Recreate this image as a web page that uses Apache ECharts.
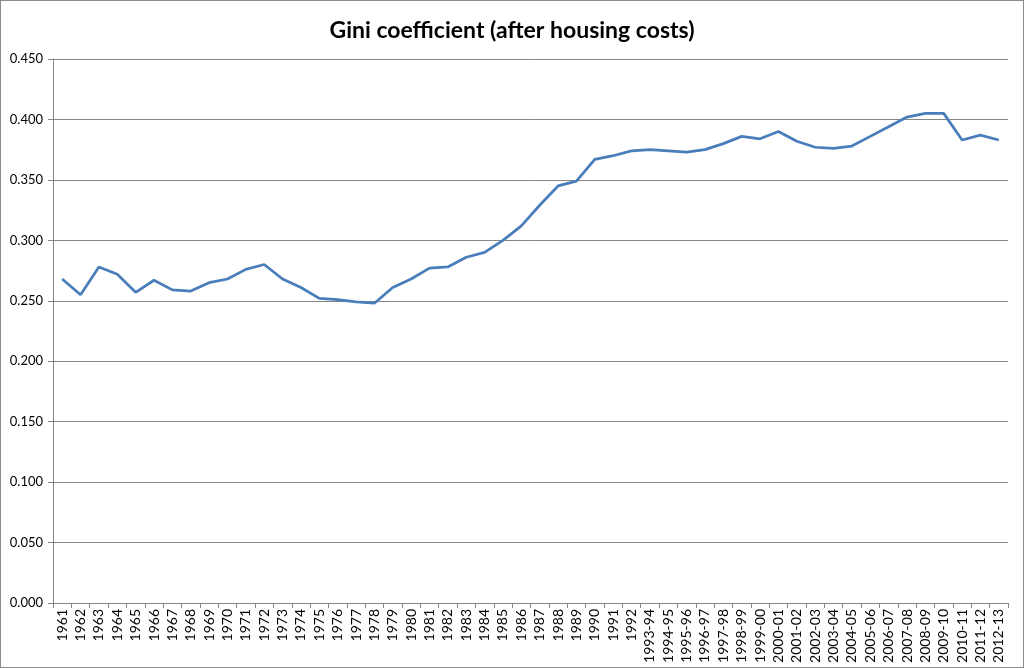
<!DOCTYPE html>
<html>
<head>
<meta charset="utf-8">
<script src="https://cdn.jsdelivr.net/npm/echarts@6/dist/echarts.min.js"></script>
<style>
  html, body { margin: 0; padding: 0; background: #fff; }
  #chart { width: 1024px; height: 668px; box-sizing: border-box; border: 1px solid #8c8c8c; }
</style>
</head>
<body>
<div id="chart"></div>
<script>
// categories (survey years)
const years = [
  '1961', '1962', '1963', '1964', '1965', '1966', '1967', '1968', '1969', '1970',
  '1971', '1972', '1973', '1974', '1975', '1976', '1977', '1978', '1979', '1980',
  '1981', '1982', '1983', '1984', '1985', '1986', '1987', '1988', '1989', '1990',
  '1991', '1992', '1993-94', '1994-95', '1995-96', '1996-97', '1997-98', '1998-99',
  '1999-00', '2000-01', '2001-02', '2002-03', '2003-04', '2004-05', '2005-06',
  '2006-07', '2007-08', '2008-09', '2009-10', '2010-11', '2011-12', '2012-13'
]

// Gini coefficient, after housing costs
const gini = [
  0.268, 0.255, 0.278, 0.272, 0.257, 0.267, 0.259, 0.258, 0.265, 0.268,
  0.276, 0.280, 0.268, 0.261, 0.252, 0.251, 0.249, 0.248, 0.261, 0.268,
  0.277, 0.278, 0.286, 0.290, 0.300, 0.312, 0.329, 0.345, 0.349, 0.367,
  0.370, 0.374, 0.375, 0.374, 0.373, 0.375, 0.380, 0.386,
  0.384, 0.390, 0.382, 0.377, 0.376, 0.378, 0.386,
  0.394, 0.402, 0.405, 0.405, 0.383, 0.387, 0.383
]

const chart = echarts.init(document.getElementById('chart'))
chart.setOption({
  animation: false,
  title: {
    text: 'Gini coefficient (after housing costs)',
    left: 'center',
    top: 13,
    textStyle: { fontFamily: 'Lato', fontSize: 23, fontWeight: 'bold', color: '#000' }
  },
  grid: { left: 52, right: 15, top: 58, bottom: 64 },
  xAxis: {
    type: 'category',
    data: years,
    boundaryGap: true,
    axisLine: { lineStyle: { color: '#868686' } },
    axisTick: { show: true, interval: 0, length: 5, lineStyle: { color: '#868686' } },
    axisLabel: {
      interval: 0,
      rotate: 90,
      fontFamily: 'Lato',
      fontSize: 14,
      color: '#000',
      margin: 6
    }
  },
  yAxis: {
    type: 'value',
    min: 0,
    max: 0.45,
    interval: 0.05,
    axisLine: { show: true, lineStyle: { color: '#868686' } },
    axisTick: { show: true, length: 5, lineStyle: { color: '#868686' } },
    axisLabel: {
      formatter: v => v.toFixed(3),
      fontFamily: 'Lato',
      fontSize: 13,
      color: '#000',
      margin: 10
    },
    splitLine: { lineStyle: { color: '#868686', width: 1 } }
  },
  series: [{
    type: 'line',
    data: gini,
    showSymbol: false,
    lineStyle: { color: '#4a7ebb', width: 2.75 },
    itemStyle: { color: '#4a7ebb' }
  }]
})
</script>
</body>
</html>
